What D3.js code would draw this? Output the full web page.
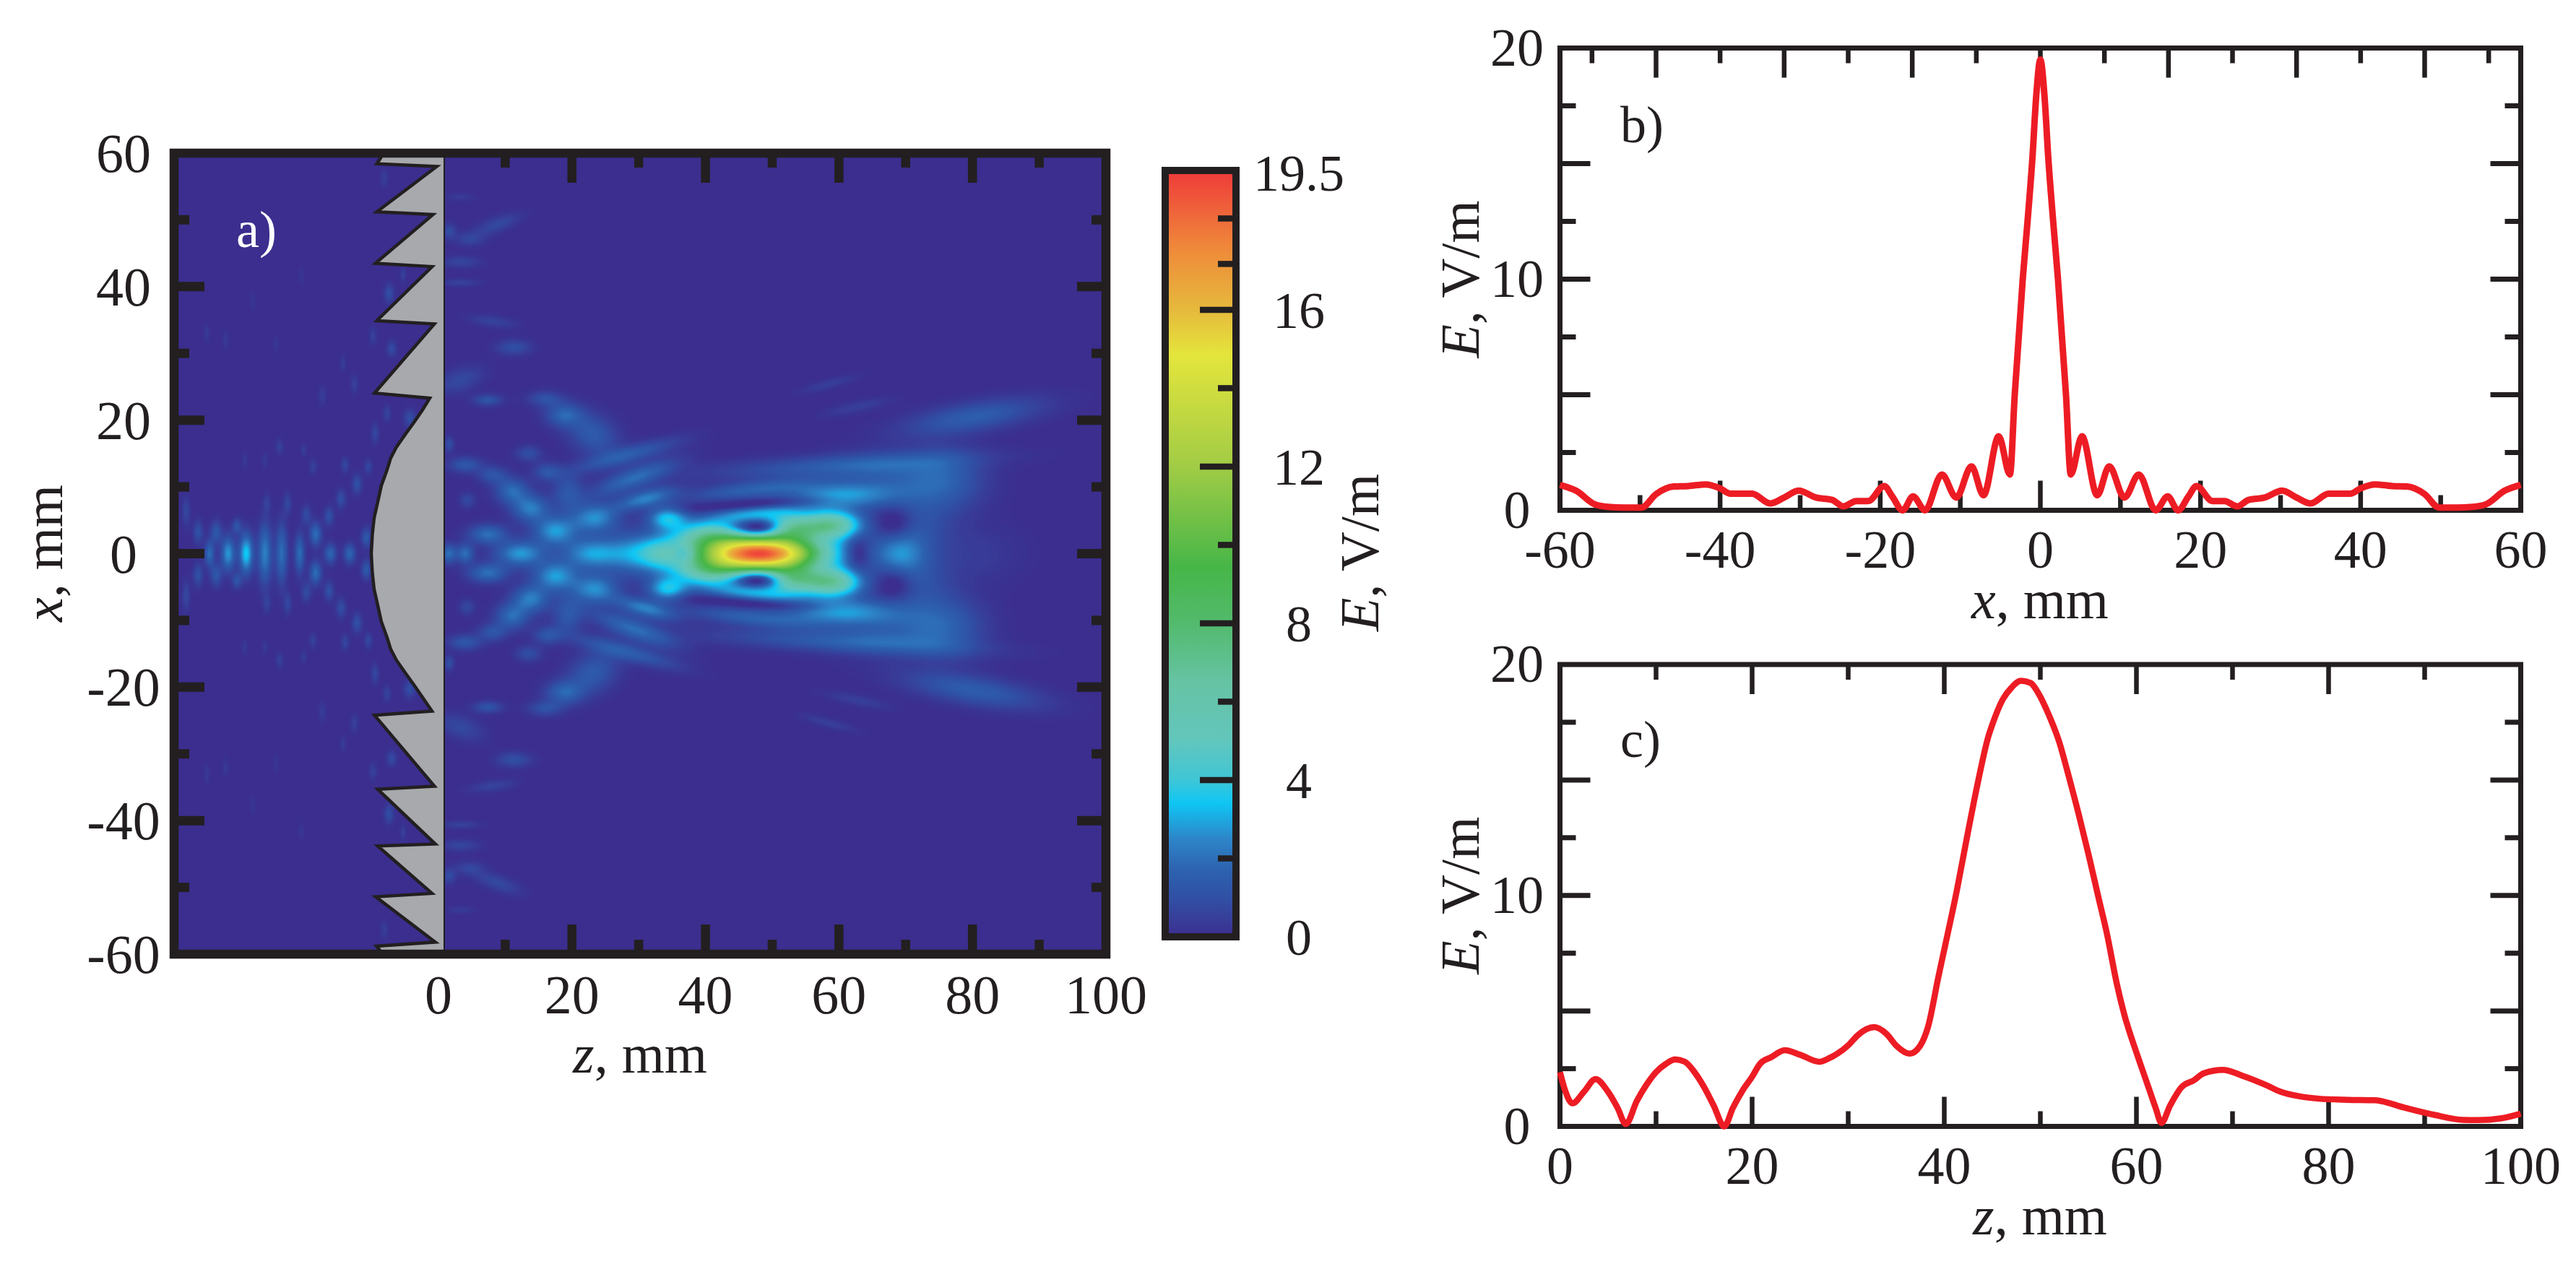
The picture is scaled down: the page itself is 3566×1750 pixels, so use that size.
<!DOCTYPE html>
<html>
<head>
<meta charset="utf-8">
<script src="https://cdn.jsdelivr.net/npm/d3@7"></script>
<style>
  html, body { margin: 0; padding: 0; background: #fff; }
  svg { display: block; }
  text { font-family: "Liberation Serif", serif; fill: #231f20; }
</style>
</head>
<body>
<svg id="chart"></svg>
<script>
// panel b: E along x at z = 48 mm
const profileX = [-60,-58,-55.6,-54,-52,-49.8,-48,-45.8,-44,-41.8,-40,-38.7,-36,-33.75,-32,-30.2,-28,-26,-24.6,-23,-21.5,-19.5,-18.5,-17.2,-15.9,-14.4,-12.3,-10.5,-8.6,-7.1,-5.2,-3.8,-3.2,-2.2,-1.6,-1,-0.5,0,0.5,1,1.6,2.2,3.2,3.8,5.2,7.1,8.6,10.5,12.3,14.4,15.9,17.2,18.5,19.5,21.5,23,24.6,26,28,30.2,32,33.75,36,38.7,40,41.8,44,45.8,48,49.8,52,54,55.6,58,60];
const profileXE = [1.1,0.85,0.25,0.15,0.12,0.12,0.7,1.03,1.05,1.12,0.95,0.72,0.72,0.3,0.55,0.85,0.55,0.45,0.17,0.4,0.4,1.05,0.6,0,0.6,0,1.55,0.55,1.9,0.65,3.2,1.55,5,10,12.5,15.2,18,19.5,18,15.2,12.5,10,5,1.55,3.2,0.65,1.9,0.55,1.55,0,0.6,0,0.6,1.05,0.4,0.4,0.17,0.45,0.55,0.85,0.55,0.3,0.72,0.72,0.95,1.12,1.05,1.03,0.7,0.12,0.12,0.15,0.25,0.85,1.1];

// panel c: E along z at x = 0
const profileZ = [0,0.5,1.3,2.5,3.7,5,6,6.85,8,9,10,11,12,13,14,15,16,17.1,18,19,20,20.8,22,23.4,25,27,28,30.1,31,32.7,34,35,36.4,37.5,38.3,39.4,40.1,41.3,42.4,43.5,44.6,45,46.1,47,48,49,49.8,50.9,52,52.8,54,55,56,56.9,58,58.7,60,61,62,62.6,63.5,64.7,66,67,69,71,73.6,75,77,79,82,84.8,88,91,94,95.5,98,100];
const profileZE = [2.35,1.6,1,1.5,2.05,1.5,0.8,0.1,1.1,1.8,2.35,2.7,2.9,2.8,2.35,1.7,0.9,0,0.8,1.55,2.15,2.7,3,3.3,3.1,2.8,2.95,3.55,3.95,4.3,4,3.5,3.15,3.5,4.3,6.5,7.85,10.2,12.6,14.9,16.9,17.4,18.5,19,19.3,19.2,18.75,17.8,16.6,15.4,13.5,11.8,10,8.4,6.1,4.9,3.2,2,0.8,0.15,0.9,1.7,2,2.3,2.45,2.2,1.77,1.5,1.3,1.2,1.15,1.13,0.8,0.5,0.28,0.27,0.35,0.55];

// panel a: field read off as lobes, [z, x, half width z, half width x, E, tilt deg]
// anything with x != 0 is drawn again at -x
const focusLobes = [
  [48.3,0,6.2,1.8,18.9,0],[40.5,2.6,3.8,1.6,5,0],[53,3.9,2.8,1.5,5.3,0],[59,4.3,3,1.5,6.4,0],[33,0,2.4,1.8,3.4,0],
  [34.3,5.3,2,1.2,3.3,0],[47,5.9,4.5,0.9,2.8,5],[60,8.7,5.5,1.3,2.6,0],[47,9.6,7,0.9,1.6,6],
  [30.9,8.2,3.2,0.9,2.3,15],[28.7,0,2.5,2.2,2,0],[23.1,0,3,1.6,2.9,0],[23.4,5.3,2.4,1.5,2.6,0],
  [69,0,2.8,2.5,2.4,0],[80,0,5,3,0.4,0]
];
const focusHoles = [
  [48,3.8,2.4,0.8,-3.4,0],[37,0,1,0.9,-1.4,0],[62.8,0,1.2,1.7,-1.3,0],[68.4,4.3,2,1.8,-1.2,0],
  [48,7.4,7,0.5,-1,4]
];
const envelopeLobes = [
  [60,13.2,13,1.1,1.4,3],[68,11,6,2.6,1.2,0],[76,11,4,3.2,1.3,0],[72,4.5,3.5,3,0.9,0],
  [80.2,20.5,7,1.5,1.5,9.4],[58.5,25.4,3,0.5,0.5,15],[62.8,22,3.5,0.6,0.5,12]
];
const fanLobes = [
  [12.3,0,2.5,1.3,2.8,0],[17.5,3.4,2.2,1.5,2.8,0],[13.8,6.8,1.9,1.4,2.3,0],[11,9.4,1.7,1.3,1.9,0],
  [16.3,12.3,1.4,0.9,1.2,0],[13.5,15,1.3,0.8,1,0],[19.4,9.2,1.6,1.9,1.3,0],[29.3,11.3,4.5,1.1,1.9,20],
  [28,14.7,5.5,0.9,1.5,15],[23.1,17.9,2.8,2,1.4,-30],[18.8,20.8,1.9,1.2,1.7,0],[16,23.2,1.8,0.8,1.1,0],
  [11.3,30.9,1.8,0.8,1,0],[8.1,34.8,2.5,0.6,0.6,-8],[3.3,26,2.5,1.2,0.8,20],[3.3,43.7,2,0.6,0.7,0],
  [3.3,40.6,2,0.4,0.6,0],[8.8,49.3,2.5,0.8,0.8,20],[4.7,47.1,1.5,0.7,0.7,0],[1.6,48.3,0.7,0.8,0.9,0],
  [3.3,53.4,1.5,0.4,0.4,0],[7.4,23,1.5,0.6,1.2,0],[4,13.3,1.7,0.8,1.3,0],[8.1,11.8,1.5,0.9,1.2,0],
  [7.4,2.9,2,1,2,0],[4,0,0.9,1,2,0],[1.5,0,0.8,1,2,0],
  [1.6,16.4,0.5,0.8,1,0],[4.3,8,0.8,0.8,0.8,0]
];
const backLobes = [
  [-34.3,0,0.5,1.3,2,0],[-31.5,0,0.7,1.7,2.8,0],[-28.8,0,0.7,2,3.6,0],[-26,0,0.7,3,2.4,0],[-23.5,0,0.6,3,2,0],
  [-20.8,0,0.5,2,2,0],[-18.4,2.9,0.6,1.2,2,0],[-16.2,0,0.6,1,1.8,0],[-13.3,0,0.6,1,1.8,0],[-10.8,2.4,0.5,1,1.4,0],
  [-36,3.2,0.5,1.2,1.1,0],[-30.2,4.1,0.5,0.8,1.2,0],[-37.8,6.3,0.4,1.5,0.8,0],[-33.3,3.2,0.6,1.2,1.3,0],
  [-22.6,7.5,0.4,1.1,0.8,0],[-25.7,7.5,0.4,1,0.6,0],[-19.8,5.8,0.5,1,0.9,0],[-16.4,5.6,0.5,1,1.1,0],
  [-14.6,8.2,0.5,1,1,0],[-12.2,10.4,0.5,1,1.1,0],[-14,13.3,0.4,0.8,0.8,0],[-10.5,13,0.4,0.8,0.8,0],
  [-18.8,13,0.4,0.8,0.6,0],[-23.8,16,0.4,0.8,0.6,0],[-9.5,18,0.4,1,0.8,0],[-20.2,15.5,0.3,0.7,0.5,0],
  [-12.6,25.4,0.4,0.9,0.6,0],[-9.8,32.6,0.4,0.9,0.6,0],[-7,30.7,0.5,0.8,0.9,0],[-4.3,20.3,0.6,0.9,1,0],
  [-7.7,21,0.4,0.8,0.7,0],[-7.4,39,0.5,1,1,0],[-5.3,41.8,0.3,0.8,0.6,0],[-8.1,56.3,0.4,1,0.5,0],
  [-14.3,28.5,0.3,0.8,0.5,0],[-20.5,41.6,0.3,1,0.3,0],[-34.7,33,0.3,1,0.4,0],[-31.9,32,0.3,1,0.4,0],
  [-27.8,37.7,0.3,1,0.3,0],[-24.3,31.4,0.3,1,0.3,0],[-17.4,23.7,0.4,1,0.5,0],[-29,14,0.3,0.8,0.4,0],[-26,14,0.3,0.8,0.4,0]
];

// lens outline, top to bottom
const lensZ = [-8.2,-9.23,-0.26,-9.23,-0.81,-9.44,-0.95,-9.23,-0.61,-9.58,-1.3,-2.4,-3.57,-4.97,-6.33,-7.16,-7.7,-8.55,-9.1,-9.64,-9.9,-10.06,-9.9,-9.64,-9.1,-8.55,-7.7,-7.16,-6.33,-4.97,-3.57,-2.4,-0.97,-9.58,-0.6,-9.1,-0.47,-9.1,-0.97,-9.4,-0.47,-9.3,-8.3];
const lensX = [60,58.4,58,51.2,50.8,43.5,43,34.9,34.4,24.05,23.3,21.5,19.8,17.87,15.9,14.3,12.55,10.2,7.7,5.3,2.9,0,-2.9,-5.3,-7.7,-10.2,-12.55,-14.3,-15.9,-17.87,-19.8,-21.5,-23.6,-24.2,-34.85,-35.3,-43.5,-43.8,-50.9,-51.4,-58.2,-58.8,-60];
const lensBackZ = 0.87;

const colorValues = [0,0.5,1,1.7,2.5,3.4,4,5,6.5,8,9.4,12,14.8,16,17.5,19.5];
const colorHexes = ['#3b2e8e','#37409b','#3050a5','#2d62b0','#2d86c9','#0fc6f4','#3fc6d6','#62c6bc','#66c3a3','#52ba6c','#46b648','#a2cc45','#e4e53c','#e6b83c','#ef8a3a','#ef3a3a'];

const mapMajorX = [-40,-20,0,20,40];
const mapMinorX = [-50,-30,-10,10,30,50];
const mapMajorZ = [20,40,60,80];
const mapMinorZ = [10,30,50,70,90];
const mapLabelsX = [-60,-40,-20,0,20,40,60];
const mapLabelsZ = [0,20,40,60,80,100];
const barMajor = [4,8,12,16];
const barMinor = [2,6,10,14,17.17,18.33];
const barLabels = [0,4,8,12,16,19.5];

const sideMajorY = [5,10,15];
const sideMinorY = [2.5,7.5,12.5,17.5];
const sideLabelsY = [0,10,20];
const bTopMajor = [-48,-32,-16,0,16,32,48];
const bTopMinor = [-56,-40,-24,-8,8,24,40,56];
const bBottomMajor = [-40,-20,0,20,40];
const bBottomMinor = [-50,-30,-10,10,30,50];
const bLabels = [-60,-40,-20,0,20,40,60];
const cMajor = [20,40,60,80];
const cMinor = [10,30,50,70,90];
const cLabels = [0,20,40,60,80,100];

const width = 3566;
const height = 1750;
const ink = '#231f20';
const red = '#ed1c24';

const svg = d3.select('#chart').attr('width', width).attr('height', height);

const colorScale = d3.scaleLinear().domain(colorValues).range(colorHexes).clamp(true);

const drawTicks = (parent, axisFn, scale, values, pos, size, weight) => {
    const g = parent.append('g').attr('transform', pos);
    g.call(axisFn(scale).tickValues(values).tickSize(size).tickFormat('').offset(0));
    g.select('.domain').remove();
    g.selectAll('text').remove();
    g.selectAll('line').attr('stroke', ink).attr('stroke-width', weight);
}

const drawLabels = (parent, axisFn, scale, values, pos, fontSize, dx, dy) => {
    const g = parent.append('g').attr('transform', pos);
    g.call(axisFn(scale).tickValues(values).tickSize(0).tickFormat(d => String(d)).offset(0));
    g.select('.domain').remove();
    g.selectAll('line').remove();
    g.attr('font-family', null).attr('font-size', null);
    g.selectAll('text')
        .attr('x', dx).attr('y', dy).attr('dy', null)
        .attr('text-anchor', 'middle')
        .style('font-size', fontSize + 'px');
}

const axisTitle = (parent, italic, rest, x, y, rotate) => {
    const t = parent.append('text')
        .attr('text-anchor', 'middle')
        .attr('transform', 'translate(' + x + ',' + y + ')' + (rotate ? ' rotate(-90)' : ''))
        .style('font-size', '76px');
    t.append('tspan').style('font-style', 'italic').text(italic);
    t.append('tspan').text(rest);
}

const panelTag = (parent, label, x, y, fill) => {
    parent.append('text').attr('x', x).attr('y', y)
        .style('font-size', '72px').style('fill', fill).text(label);
}

// panel a

const drawMap = () => {
    const left = 241, right = 1531, top = 212, bottom = 1321;
    const zScale = d3.scaleLinear().domain([-39.6, 100]).range([left, right]);
    const xScale = d3.scaleLinear().domain([-60, 60]).range([bottom, top]);

    svg.append('defs').append('clipPath').attr('id', 'map-clip')
        .append('rect').attr('x', left).attr('y', top)
        .attr('width', right - left).attr('height', bottom - top);

    const lobes = [...focusLobes, ...focusHoles, ...envelopeLobes, ...fanLobes, ...backLobes];
    const expanded = [];
    lobes.forEach(l => {
        expanded.push(l);
        if (l[1] !== 0) expanded.push([l[0], -l[1], l[2], l[3], l[4], -l[5]]);
    });
    const prepared = expanded.map(l => {
        const a = l[5] * Math.PI / 180;
        return { z: l[0], x: l[1], rz: l[2], rx: l[3], e: l[4], c: Math.cos(a), s: Math.sin(a) };
    });

    const step = 0.3;
    const cols = Math.ceil(139.6 / step) + 1;
    const rows = Math.ceil(120 / step) + 1;
    const grid = new Float64Array(cols * rows);
    for (let r = 0; r < rows; r++) {
        const x = -60 + r * step;
        for (let c = 0; c < cols; c++) {
            const z = -39.6 + c * step;
            let sum = 0;
            for (const b of prepared) {
                const dz = z - b.z, dx = x - b.x;
                const u = (dz * b.c + dx * b.s) / b.rz;
                const v = (dx * b.c - dz * b.s) / b.rx;
                const d = u * u + v * v;
                if (d < 25) sum += b.e * Math.exp(-0.5 * d);
            }
            grid[r * cols + c] = Math.max(0, sum);
        }
    }

    const levels = [...d3.range(0.05, 3.4, 0.05), ...d3.range(3.4, 19.6, 0.15)];
    const contours = d3.contours().size([cols, rows]).thresholds(levels)(grid);
    const path = d3.geoPath(d3.geoTransform({
        point(c, r) {
            this.stream.point(zScale(-39.6 + (c - 0.5) * step), xScale(-60 + (r - 0.5) * step));
        }
    }));

    const plot = svg.append('g').attr('clip-path', 'url(#map-clip)');
    plot.append('rect').attr('x', left).attr('y', top)
        .attr('width', right - left).attr('height', bottom - top)
        .attr('fill', colorScale(0));
    plot.selectAll('path.level')
        .data(contours)
        .enter()
        .append('path')
        .attr('class', 'level')
        .attr('d', path)
        .attr('fill', d => colorScale(d.value));

    // lens
    const outline = lensZ.map((z, i) => [z, lensX[i]]);
    const lensLine = d3.line().x(d => zScale(d[0])).y(d => xScale(d[1]));
    plot.append('path')
        .attr('d', lensLine([...outline, [lensBackZ, -60], [lensBackZ, 60]]) + 'Z')
        .attr('fill', '#a7a9ac');
    plot.append('path')
        .attr('d', lensLine(outline))
        .attr('fill', 'none').attr('stroke', ink).attr('stroke-width', 4.5)
        .attr('stroke-linejoin', 'miter');
    plot.append('path')
        .attr('d', lensLine([[lensBackZ, -60], [lensBackZ, 60]]))
        .attr('stroke', ink).attr('stroke-width', 2);

    drawTicks(svg, d3.axisBottom, zScale, mapMajorZ, 'translate(0,' + top + ')', 41, 12.5);
    drawTicks(svg, d3.axisBottom, zScale, mapMinorZ, 'translate(0,' + top + ')', 20, 12.5);
    drawTicks(svg, d3.axisTop, zScale, mapMajorZ, 'translate(0,' + bottom + ')', 41, 12.5);
    drawTicks(svg, d3.axisTop, zScale, mapMinorZ, 'translate(0,' + bottom + ')', 20, 12.5);
    drawTicks(svg, d3.axisRight, xScale, mapMajorX, 'translate(' + left + ',0)', 42, 13);
    drawTicks(svg, d3.axisRight, xScale, mapMinorX, 'translate(' + left + ',0)', 21, 13);
    drawTicks(svg, d3.axisLeft, xScale, mapMajorX, 'translate(' + right + ',0)', 40, 13);
    drawTicks(svg, d3.axisLeft, xScale, mapMinorX, 'translate(' + right + ',0)', 20, 13);

    svg.append('rect').attr('x', left).attr('y', top)
        .attr('width', right - left).attr('height', bottom - top)
        .attr('fill', 'none').attr('stroke', ink).attr('stroke-width', 12.5);

    drawLabels(svg, d3.axisLeft, xScale, mapLabelsX, 'translate(0,0)', 76, 171, 26);
    drawLabels(svg, d3.axisBottom, zScale, mapLabelsZ, 'translate(0,0)', 76, 0, 1403);
    axisTitle(svg, 'z', ', mm', 886, 1485, false);
    axisTitle(svg, 'x', ', mm', 86, 766, true);
    panelTag(svg, 'a)', 327, 342, '#fff');
}

// colour bar

const drawBar = () => {
    const left = 1613, right = 1711, top = 236, bottom = 1297;
    const barScale = d3.scaleLinear().domain([0, 19.5]).range([1297, 239]);

    const gradient = svg.append('defs').append('linearGradient')
        .attr('id', 'bar-fill').attr('x1', 0).attr('y1', 1).attr('x2', 0).attr('y2', 0);
    gradient.selectAll('stop')
        .data(colorValues)
        .enter()
        .append('stop')
        .attr('offset', d => d / 19.5)
        .attr('stop-color', d => colorScale(d));

    svg.append('rect').attr('x', left).attr('y', top)
        .attr('width', right - left).attr('height', bottom - top)
        .attr('fill', 'url(#bar-fill)');

    drawTicks(svg, d3.axisLeft, barScale, barMajor, 'translate(' + (right - 5) + ',0)', 45, 8.5);
    drawTicks(svg, d3.axisLeft, barScale, barMinor, 'translate(' + (right - 5) + ',0)', 20, 8.5);

    svg.append('rect').attr('x', left).attr('y', top)
        .attr('width', right - left).attr('height', bottom - top)
        .attr('fill', 'none').attr('stroke', ink).attr('stroke-width', 10);

    drawLabels(svg, d3.axisRight, barScale, barLabels, 'translate(0,0)', 72, 1798, 25);
    axisTitle(svg, 'E', ', V/m', 1908, 765, true);
}

// panels b and c

const drawSide = (cfg) => {
    const left = 2159.5, right = 3489.5;
    const xScale = d3.scaleLinear().domain(cfg.domain).range([left, right]);
    const yScale = d3.scaleLinear().domain([0, 20]).range([cfg.bottom, cfg.top]);
    const major = 38, minor = 18, weight = 6.5;

    drawTicks(svg, d3.axisBottom, xScale, cfg.topMajor, 'translate(0,' + cfg.top + ')', major + 3, weight);
    drawTicks(svg, d3.axisBottom, xScale, cfg.topMinor, 'translate(0,' + cfg.top + ')', minor + 3, weight);
    drawTicks(svg, d3.axisTop, xScale, cfg.bottomMajor, 'translate(0,' + cfg.bottom + ')', major + 3, weight);
    drawTicks(svg, d3.axisTop, xScale, cfg.bottomMinor, 'translate(0,' + cfg.bottom + ')', minor + 3, weight);
    drawTicks(svg, d3.axisRight, yScale, sideMajorY, 'translate(' + left + ',0)', major + 4, 7);
    drawTicks(svg, d3.axisRight, yScale, sideMinorY, 'translate(' + left + ',0)', minor + 4, 7);
    drawTicks(svg, d3.axisLeft, yScale, sideMajorY, 'translate(' + right + ',0)', major + 4, 7);
    drawTicks(svg, d3.axisLeft, yScale, sideMinorY, 'translate(' + right + ',0)', minor + 4, 7);

    svg.append('rect').attr('x', left).attr('y', cfg.top)
        .attr('width', right - left).attr('height', cfg.bottom - cfg.top)
        .attr('fill', 'none').attr('stroke', ink).attr('stroke-width', 7);

    const line = d3.line()
        .x((d, i) => xScale(cfg.xs[i]))
        .y(d => yScale(d))
        .curve(d3.curveMonotoneX);
    svg.append('path')
        .attr('d', line(cfg.ys))
        .attr('fill', 'none')
        .attr('stroke', red)
        .attr('stroke-width', cfg.lineWidth)
        .attr('stroke-linejoin', 'round');

    drawLabels(svg, d3.axisLeft, yScale, sideLabelsY, 'translate(0,0)', 74, 2100, 24);
    drawLabels(svg, d3.axisBottom, xScale, cfg.labels, 'translate(0,0)', 74, 0, cfg.bottom + 79);
    axisTitle(svg, cfg.titleVar, ', mm', 2824, cfg.bottom + 149, false);
    axisTitle(svg, 'E', ', V/m', 2047, (cfg.top + cfg.bottom) / 2, true);
    panelTag(svg, cfg.tag, 2243, cfg.tagY, ink);
}

drawMap();
drawBar();
drawSide({
    domain: [-60, 60], top: 66.5, bottom: 706.5,
    topMajor: bTopMajor, topMinor: bTopMinor, bottomMajor: bBottomMajor, bottomMinor: bBottomMinor,
    labels: bLabels, xs: profileX, ys: profileXE, lineWidth: 9,
    titleVar: 'x', tag: 'b)', tagY: 197
});
drawSide({
    domain: [0, 100], top: 920, bottom: 1559.5,
    topMajor: cMajor, topMinor: cMinor, bottomMajor: cMajor, bottomMinor: cMinor,
    labels: cLabels, xs: profileZ, ys: profileZE, lineWidth: 8.5,
    titleVar: 'z', tag: 'c)', tagY: 1048
});
</script>
</body>
</html>
